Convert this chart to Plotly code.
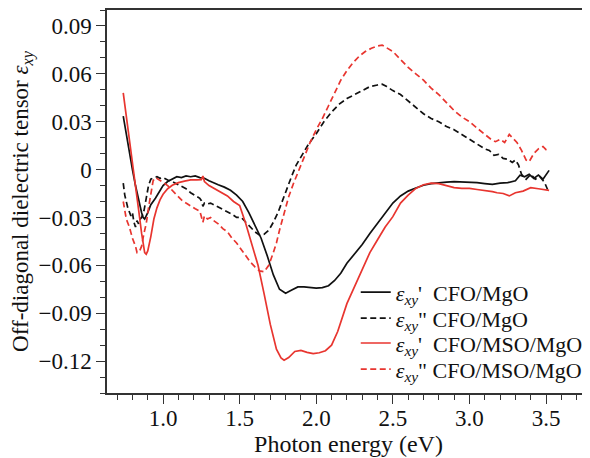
import plotly.graph_objects as go

# ---------------- data ----------------
e_bs = [0.74, 0.76, 0.78, 0.80, 0.82, 0.84, 0.86, 0.87, 0.88, 0.90, 0.92, 0.95, 0.98, 1.00, 1.03, 1.06,
        1.09, 1.12, 1.15, 1.18, 1.21, 1.24, 1.27, 1.30, 1.33, 1.36, 1.40, 1.44, 1.48, 1.52, 1.56, 1.60,
        1.64, 1.68, 1.72, 1.76, 1.80, 1.84, 1.88, 1.92, 1.96, 2.00, 2.04, 2.08, 2.12, 2.16, 2.20, 2.25,
        2.30, 2.35, 2.40, 2.45, 2.50, 2.55, 2.60, 2.65, 2.70, 2.75, 2.80, 2.85, 2.90, 2.95, 3.00, 3.05,
        3.10, 3.15, 3.20, 3.25, 3.30, 3.33, 3.36, 3.39, 3.42, 3.45, 3.48, 3.50, 3.52]
v_bs = [0.0335, 0.022, 0.010, 0.0, -0.010, -0.019, -0.027, -0.030, -0.031, -0.027, -0.022, -0.018, -0.013,
        -0.010, -0.0075, -0.006, -0.0045, -0.005, -0.004, -0.0045, -0.004, -0.005, -0.0055, -0.007,
        -0.0085, -0.0095, -0.011, -0.013, -0.016, -0.020, -0.027, -0.035, -0.043, -0.054, -0.066,
        -0.075, -0.0775, -0.0755, -0.0735, -0.0735, -0.074, -0.0743, -0.074, -0.0728, -0.0695,
        -0.065, -0.0587, -0.053, -0.047, -0.040, -0.0335, -0.027, -0.021, -0.0165, -0.0135, -0.0115,
        -0.0098, -0.0088, -0.0082, -0.0078, -0.0075, -0.0076, -0.0078, -0.0082, -0.0088, -0.0093,
        -0.0085, -0.0082, -0.0070, -0.0035, -0.0045, -0.0030, -0.0055, -0.0035, -0.0060, -0.0030, -0.0005]

e_bd = [0.74, 0.75, 0.77, 0.79, 0.80, 0.81, 0.82, 0.83, 0.84, 0.85, 0.86, 0.875, 0.89, 0.905, 0.92, 0.94,
        0.96, 0.98, 1.00, 1.03, 1.06, 1.09, 1.12, 1.15, 1.18, 1.21, 1.24, 1.25, 1.26, 1.27, 1.29, 1.31,
        1.33, 1.36, 1.39, 1.42, 1.45, 1.48, 1.51, 1.54, 1.57, 1.60, 1.63, 1.66, 1.69, 1.72, 1.75, 1.78,
        1.81, 1.84, 1.87, 1.90, 1.95, 2.00, 2.05, 2.10, 2.15, 2.20, 2.25, 2.30, 2.35, 2.40, 2.43, 2.46,
        2.50, 2.55, 2.60, 2.65, 2.70, 2.75, 2.80, 2.85, 2.90, 2.95, 3.00, 3.05, 3.10, 3.13, 3.16, 3.19,
        3.22, 3.25, 3.28, 3.30, 3.32, 3.34, 3.37, 3.40, 3.43, 3.46, 3.49, 3.51]
v_bd = [-0.0085, -0.016, -0.024, -0.029, -0.027, -0.033, -0.036, -0.032, -0.034, -0.031, -0.030, -0.026,
        -0.018, -0.010, -0.006, -0.005, -0.0045, -0.0055, -0.005, -0.0065, -0.0075, -0.009, -0.0105,
        -0.012, -0.0145, -0.0165, -0.018, -0.0195, -0.023, -0.021, -0.0215, -0.021, -0.022, -0.024,
        -0.025, -0.027, -0.028, -0.030, -0.030, -0.033, -0.036, -0.039, -0.041, -0.0405, -0.038,
        -0.033, -0.027, -0.019, -0.011, -0.004, 0.003, 0.008, 0.016, 0.0225, 0.030, 0.036, 0.041,
        0.0445, 0.047, 0.050, 0.052, 0.053, 0.0535, 0.052, 0.0495, 0.047, 0.043, 0.039, 0.035, 0.032,
        0.030, 0.027, 0.025, 0.022, 0.019, 0.016, 0.013, 0.012, 0.009, 0.0095, 0.007, 0.0065, 0.0045,
        0.006, 0.003, -0.003, -0.006, -0.003, -0.006, -0.0045, -0.008, -0.0125]

e_rs = [0.74, 0.76, 0.78, 0.80, 0.82, 0.84, 0.86, 0.87, 0.88, 0.89, 0.90, 0.92, 0.94, 0.96, 0.98, 1.00,
        1.03, 1.06, 1.10, 1.14, 1.18, 1.22, 1.25, 1.26, 1.27, 1.30, 1.34, 1.38, 1.42, 1.46, 1.50, 1.54,
        1.58, 1.62, 1.66, 1.70, 1.74, 1.77, 1.79, 1.82, 1.86, 1.90, 1.94, 1.98, 2.02, 2.06, 2.10, 2.14,
        2.20, 2.25, 2.30, 2.35, 2.40, 2.45, 2.50, 2.55, 2.60, 2.65, 2.70, 2.75, 2.80, 2.85, 2.90, 2.95,
        3.00, 3.05, 3.10, 3.15, 3.18, 3.22, 3.26, 3.30, 3.35, 3.40, 3.45, 3.50, 3.52]
v_rs = [0.048, 0.034, 0.019, 0.004, -0.011, -0.025, -0.040, -0.047, -0.052, -0.053, -0.051, -0.042,
        -0.031, -0.024, -0.019, -0.0155, -0.012, -0.0098, -0.0082, -0.0072, -0.0065, -0.0065, -0.0063,
        -0.0040, -0.0075, -0.010, -0.012, -0.014, -0.0165, -0.020, -0.0225, -0.034, -0.047, -0.060,
        -0.078, -0.097, -0.1125, -0.118, -0.1195, -0.1178, -0.114, -0.1133, -0.1145, -0.1153, -0.1148,
        -0.1135, -0.110, -0.1015, -0.084, -0.073, -0.062, -0.052, -0.044, -0.036, -0.0295, -0.021,
        -0.016, -0.0118, -0.0095, -0.0085, -0.0088, -0.010, -0.0113, -0.0118, -0.0118, -0.0125, -0.013,
        -0.0138, -0.0145, -0.0150, -0.0165, -0.0145, -0.0135, -0.0113, -0.012, -0.0128, -0.013]

e_rd = [0.74, 0.75, 0.76, 0.78, 0.80, 0.82, 0.83, 0.845, 0.86, 0.875, 0.89, 0.905, 0.92, 0.935, 0.95,
        0.97, 1.00, 1.03, 1.06, 1.09, 1.12, 1.15, 1.18, 1.21, 1.24, 1.25, 1.26, 1.27, 1.29, 1.31, 1.33,
        1.36, 1.39, 1.42, 1.45, 1.48, 1.51, 1.54, 1.57, 1.60, 1.63, 1.66, 1.69, 1.72, 1.74, 1.76, 1.79,
        1.82, 1.85, 1.88, 1.92, 1.96, 2.00, 2.04, 2.08, 2.12, 2.16, 2.20, 2.24, 2.28, 2.32, 2.36, 2.40,
        2.43, 2.46, 2.50, 2.55, 2.60, 2.65, 2.70, 2.75, 2.80, 2.85, 2.90, 2.95, 3.00, 3.05, 3.10, 3.14,
        3.17, 3.20, 3.23, 3.26, 3.29, 3.31, 3.34, 3.37, 3.39, 3.42, 3.45, 3.48, 3.50, 3.52]
v_rd = [-0.020, -0.027, -0.031, -0.036, -0.043, -0.048, -0.052, -0.0515, -0.048, -0.040, -0.034, -0.024,
        -0.014, -0.007, -0.005, -0.006, -0.008, -0.010, -0.013, -0.016, -0.019, -0.021, -0.023, -0.0245,
        -0.026, -0.030, -0.033, -0.029, -0.031, -0.030, -0.032, -0.034, -0.037, -0.039, -0.043, -0.046,
        -0.050, -0.054, -0.058, -0.061, -0.0635, -0.064, -0.060, -0.052, -0.046, -0.038, -0.027, -0.017,
        -0.009, -0.002, 0.008, 0.017, 0.025, 0.032, 0.040, 0.048, 0.056, 0.062, 0.067, 0.071, 0.074,
        0.076, 0.0775, 0.078, 0.0765, 0.074, 0.069, 0.064, 0.060, 0.056, 0.051, 0.047, 0.042, 0.037,
        0.033, 0.030, 0.026, 0.022, 0.019, 0.0175, 0.019, 0.017, 0.022, 0.019, 0.017, 0.012, 0.006,
        0.005, 0.010, 0.013, 0.0145, 0.0125, 0.012]

y_tickvals = [0.09, 0.06, 0.03, 0.0, -0.03, -0.06, -0.09, -0.12]
y_ticktext = ["0.09", "0.06", "0.03", "0", "\u22120.03", "\u22120.06", "\u22120.09", "\u22120.12"]
x_tickvals = [1.0, 1.5, 2.0, 2.5, 3.0, 3.5]
x_ticktext = ["1.0", "1.5", "2.0", "2.5", "3.0", "3.5"]

names = ["<i>\u03b5<sub>xy</sub></i>'\u00a0 CFO/MgO",
         "<i>\u03b5<sub>xy</sub></i>\" CFO/MgO",
         "<i>\u03b5<sub>xy</sub></i>'\u00a0 CFO/MSO/MgO",
         "<i>\u03b5<sub>xy</sub></i>\" CFO/MSO/MgO"]

BLACK = "#111111"
RED = "#e8352f"
FONT = "Liberation Serif"
DASH = "6px,3.5px"

legend_ids = ["legend", "legend2", "legend3", "legend4"]
legend_y = [0.263, 0.195, 0.130, 0.062]

fig = go.Figure()
series = [(e_bs, v_bs, BLACK, "solid"), (e_bd, v_bd, BLACK, DASH),
          (e_rs, v_rs, RED, "solid"), (e_rd, v_rd, RED, DASH)]
for (ex, vy, col, dash), nm, lid in zip(series, names, legend_ids):
    fig.add_trace(go.Scatter(x=ex, y=vy, mode="lines", name=nm, legend=lid,
                             line=dict(color=col, width=1.7, dash=dash)))

axcol = "#333333"
legend_common = dict(x=0.515, xanchor="left", yanchor="middle",
                     bgcolor="rgba(0,0,0,0)", font=dict(size=22, family=FONT, color="#111111"),
                     itemwidth=30)
layout_legends = {lid: dict(y=ly, **legend_common) for lid, ly in zip(legend_ids, legend_y)}

fig.update_layout(
    width=582, height=450,
    margin=dict(l=99, r=0, t=2, b=65),
    paper_bgcolor="white", plot_bgcolor="white",
    font=dict(family=FONT, size=23, color="#111111"),
    showlegend=True,
    xaxis=dict(range=[0.634, 3.787], showgrid=False, zeroline=False,
               showline=True, linecolor=axcol, linewidth=1.5, mirror=True,
               ticks="outside", ticklen=9, tickwidth=1.3, tickcolor=axcol,
               tickvals=x_tickvals, ticktext=x_ticktext,
               tickfont=dict(family=FONT, size=23, color="#111111"),
               ticklabelstandoff=-5,
               minor=dict(dtick=0.1, tick0=0, ticks="outside", ticklen=5,
                          tickwidth=1.2, tickcolor=axcol),
               title=dict(text="Photon energy (eV)", standoff=1,
                          font=dict(size=24, family=FONT))),
    yaxis=dict(range=[-0.14, 0.10], showgrid=False, zeroline=False,
               showline=True, linecolor=axcol, linewidth=1.5,
               ticks="outside", ticklen=9, tickwidth=1.3, tickcolor=axcol,
               tickvals=y_tickvals, ticktext=y_ticktext,
               tickfont=dict(family=FONT, size=23, color="#111111"),
               minor=dict(dtick=0.01, tick0=0, ticks="outside", ticklen=5,
                          tickwidth=1.2, tickcolor=axcol),
               title=dict(text="Off-diagonal dielectric tensor <i>\u03b5<sub>xy</sub></i>",
                          standoff=10, font=dict(size=23, family=FONT))),
    **layout_legends,
)

fig.write_html("out.html")
